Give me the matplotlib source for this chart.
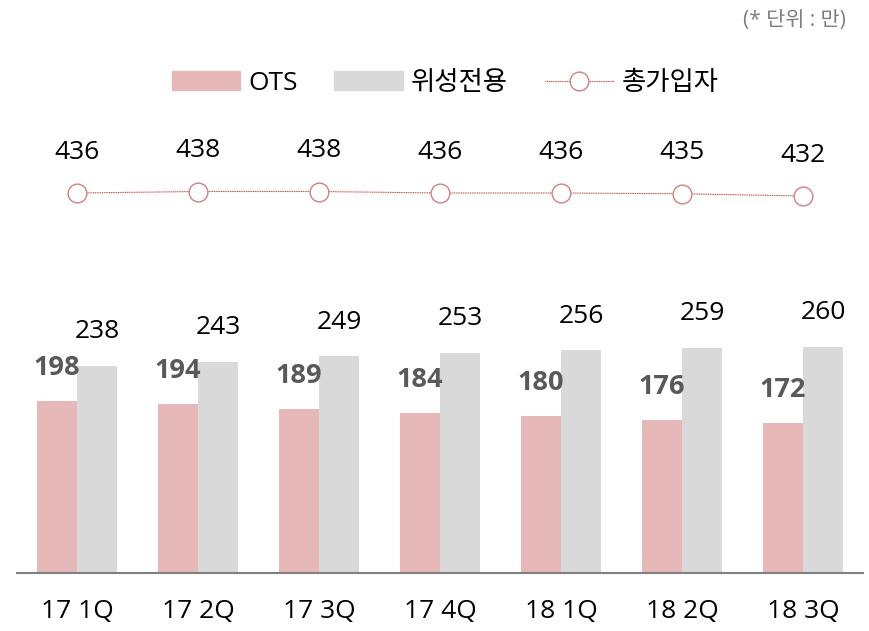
import numpy as np
import matplotlib.pyplot as plt
from matplotlib.lines import Line2D
from matplotlib.patches import Patch

plt.rcParams['font.family'] = ['Open Sans', 'Noto Sans CJK KR', 'DejaVu Sans']

quarters = ["17 1Q", "17 2Q", "17 3Q", "17 4Q", "18 1Q", "18 2Q", "18 3Q"]
ots = [198, 194, 189, 184, 180, 176, 172]
satellite = [238, 243, 249, 253, 256, 259, 260]
total = [436, 438, 438, 436, 436, 435, 432]

pink = "#E6B9B8"
grey = "#D9D9D9"
red = "#C0504D"

fig = plt.figure(figsize=(8.7, 6.31), dpi=100)
ax = fig.add_axes([0.019, 0.0919, 0.9735, 0.7496])

x = np.arange(len(quarters))
w = 0.33
ax.bar(x - w / 2, ots, w, color=pink)
ax.bar(x + w / 2, satellite, w, color=grey)

for i in range(len(x)):
    ax.annotate(str(ots[i]), (x[i] - w / 2, ots[i]), xytext=(0, 33), textcoords="offset pixels",
                ha="center", va="center", fontsize=19.5, fontweight="bold", color="#595959")
    ax.annotate(str(satellite[i]), (x[i] + w / 2, satellite[i]), xytext=(0, 34), textcoords="offset pixels",
                ha="center", va="center", fontsize=19, color="black")

ax.set_xlim(-0.5, len(x) - 0.5)
ax.set_ylim(0, 543.7)
ax.set_xticks(x)
ax.set_xticklabels(quarters, fontsize=19)
ax.tick_params(axis="x", length=0, pad=19)
ax.set_yticks([])
for s in ["top", "right", "left"]:
    ax.spines[s].set_visible(False)
ax.spines["bottom"].set_color("#808080")
ax.spines["bottom"].set_linewidth(1.5)

ax2 = ax.twinx()
ax2.plot(x, total, color=red, lw=0.8, ls=(0, (1, 0.6)), marker="o", ms=13.5,
         mfc="white", mec="#D08080", mew=1.0)
for i in range(len(x)):
    ax2.annotate(str(total[i]), (x[i], total[i]), xytext=(0, 41), textcoords="offset pixels",
                 ha="center", va="center", fontsize=19, color="black")
ax2.set_ylim(-70.7, 560)
ax2.set_yticks([])
for s in ax2.spines.values():
    s.set_visible(False)

handles = [Patch(color=pink), Patch(color=grey),
           Line2D([], [], color=red, lw=0.8, ls=(0, (1, 0.6)), marker="o", ms=13.5,
                  mfc="white", mec="#D08080", mew=1.0)]
fig.legend(handles, ["OTS", "위성전용", "총가입자"], loc="center", bbox_to_anchor=(0.5115, 0.868),
           ncol=3, frameon=False, fontsize=19, handlelength=2.6, handleheight=0.7,
           columnspacing=1.4, handletextpad=0.3)

fig.text(0.972, 0.968, "(* 단위 : 만)", ha="right", va="center", fontsize=15, color="#7F7F7F")

fig.savefig("out.png", dpi=100)
